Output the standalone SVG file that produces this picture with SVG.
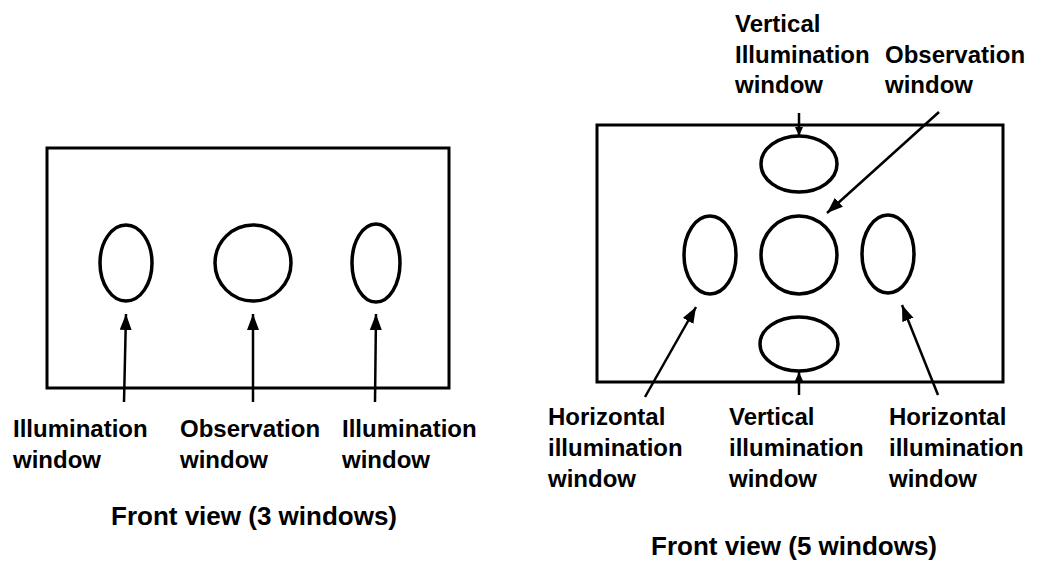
<svg xmlns="http://www.w3.org/2000/svg" width="1060" height="562" viewBox="0 0 1060 562">
<style>
.frame{fill:none;stroke:#000;stroke-width:3}
.win{fill:none;stroke:#000;stroke-width:3.5}
.con{stroke:#000;stroke-width:2.5;fill:none}
.lbl{font-family:"Liberation Sans",Arial,sans-serif;font-weight:bold;font-size:24px;fill:#000}
.cap{font-family:"Liberation Sans",Arial,sans-serif;font-weight:bold;font-size:26px;fill:#000}
</style>
<defs>
<marker id="ah" markerUnits="userSpaceOnUse" markerWidth="18" markerHeight="14" refX="16" refY="6" orient="auto">
<path d="M0,0 L16,6 L0,12 Z" fill="#000"/>
</marker>
<marker id="ahs" markerUnits="userSpaceOnUse" markerWidth="10" markerHeight="10" refX="9" refY="4" orient="auto">
<path d="M0,0 L9,4 L0,8 Z" fill="#000"/>
</marker>
</defs>
<rect width="1060" height="562" fill="#fff"/>

<g id="view3">
<rect class="frame" x="47" y="148" width="402" height="240"/>
<g id="ill-left3"><ellipse class="win" cx="126" cy="263" rx="26" ry="38"/></g>
<g id="obs3"><ellipse class="win" cx="253" cy="263" rx="38" ry="38"/></g>
<g id="ill-right3"><ellipse class="win" cx="376" cy="263" rx="24" ry="39"/></g>
</g>

<g id="view5">
<rect class="frame" x="597" y="125" width="406" height="257"/>
<g id="vert-top"><ellipse class="win" cx="799" cy="164" rx="38" ry="28"/></g>
<g id="hor-left"><ellipse class="win" cx="710" cy="255" rx="26" ry="39"/></g>
<g id="obs5"><ellipse class="win" cx="799" cy="255" rx="38" ry="39"/></g>
<g id="hor-right"><ellipse class="win" cx="888" cy="254" rx="26" ry="39"/></g>
<g id="vert-bottom"><ellipse class="win" cx="799" cy="344" rx="39" ry="27"/></g>
</g>

<g id="connectors">
<line class="con" x1="124" y1="402" x2="126" y2="314" marker-end="url(#ah)"/>
<line class="con" x1="253" y1="402" x2="253" y2="314" marker-end="url(#ah)"/>
<line class="con" x1="375" y1="402" x2="376" y2="314" marker-end="url(#ah)"/>
<line class="con" x1="799" y1="113" x2="799" y2="136" marker-end="url(#ahs)"/>
<line class="con" x1="939" y1="112" x2="827" y2="213" marker-end="url(#ah)"/>
<line class="con" x1="645" y1="397" x2="696" y2="307" marker-end="url(#ah)"/>
<line class="con" x1="938" y1="395" x2="902" y2="305" marker-end="url(#ah)"/>
<line class="con" x1="799" y1="395" x2="799" y2="372" marker-end="url(#ahs)"/>
</g>

<g id="labels3">
<text class="lbl" x="13" y="437">Illumination</text>
<text class="lbl" x="13" y="468">window</text>
<text class="lbl" x="180" y="437">Observation</text>
<text class="lbl" x="180" y="468">window</text>
<text class="lbl" x="342" y="437">Illumination</text>
<text class="lbl" x="342" y="468">window</text>
<text class="cap" x="111" y="525">Front view (3 windows)</text>
</g>

<g id="labels5">
<text class="lbl" x="735" y="32">Vertical</text>
<text class="lbl" x="735" y="63">Illumination</text>
<text class="lbl" x="735" y="93">window</text>
<text class="lbl" x="885" y="63">Observation</text>
<text class="lbl" x="885" y="93">window</text>
<text class="lbl" x="548" y="425">Horizontal</text>
<text class="lbl" x="548" y="456">illumination</text>
<text class="lbl" x="548" y="487">window</text>
<text class="lbl" x="729" y="425">Vertical</text>
<text class="lbl" x="729" y="456">illumination</text>
<text class="lbl" x="729" y="487">window</text>
<text class="lbl" x="889" y="425">Horizontal</text>
<text class="lbl" x="889" y="456">illumination</text>
<text class="lbl" x="889" y="487">window</text>
<text class="cap" x="651" y="555">Front view (5 windows)</text>
</g>
</svg>
